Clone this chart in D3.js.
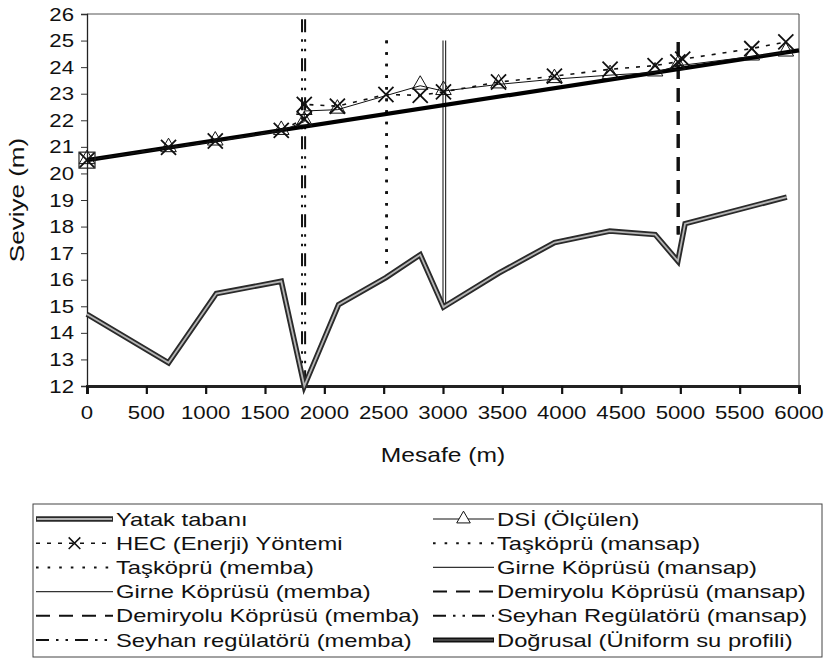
<!DOCTYPE html>
<html>
<head>
<meta charset="utf-8">
<script src="https://cdn.jsdelivr.net/npm/d3@7"></script>
<style>
  html, body { margin: 0; padding: 0; background: #fff; }
  svg { display: block; }
  text { font-family: "Liberation Sans", Arial, sans-serif; fill: #111; }
</style>
</head>
<body>
<script>
// ---- data ----
const xTicks = [0, 500, 1000, 1500, 2000, 2500, 3000, 3500, 4000, 4500, 5000, 5500, 6000];
const yTicks = [12, 13, 14, 15, 16, 17, 18, 19, 20, 21, 22, 23, 24, 25, 26];

// Yatak tabanı (river bed)
const bedX = [0, 687, 1090, 1637, 1831, 2120, 2519, 2808, 3004, 3470, 3940, 4405, 4788, 4979, 5040, 5897];
const bedY = [14.7, 12.87, 15.48, 15.94, 12.0, 15.06, 16.08, 16.94, 14.97, 16.25, 17.4, 17.83, 17.7, 16.7, 18.11, 19.11];

// HEC (Enerji) Yöntemi
const hecX = [0, 687, 1081, 1637, 1831, 1831, 2110, 2519, 2808, 3004, 3468, 3939, 4408, 4787, 4979, 5020, 5602, 5889];
const hecY = [20.5, 20.98, 21.22, 21.62, 22.05, 22.6, 22.53, 22.97, 22.94, 23.07, 23.44, 23.66, 23.92, 24.06, 24.2, 24.3, 24.7, 24.95];

// DSİ (Ölçülen)
const dsiX = [0, 687, 1081, 1637, 1831, 1831, 2110, 2808, 3004, 3468, 3939, 4408, 4787, 4979, 5602, 5889];
const dsiY = [20.5, 20.95, 21.2, 21.6, 21.95, 22.35, 22.4, 23.3, 23.1, 23.35, 23.55, 23.7, 23.8, 24.05, 24.4, 24.55];

// start point (square marker)
const startX = [0];
const startY = [20.5];

// Doğrusal (Üniform su profili)
const linX = [0, 6000];
const linY = [20.5, 24.63];

// structure sections: [x, top, bottom]
const taskopruMansap = [2525, 25.0, 16.5];
const taskopruMemba  = [2525, 25.0, 16.5];
const girneMansap    = [3000, 25.0, 15.0];
const girneMemba     = [3022, 25.0, 15.0];
const demiryoluMansap = [4982, 24.95, 17.7];
const demiryoluMemba  = [4982, 24.95, 17.7];
const seyhanMansap   = [1812, 25.8, 12.0];
const seyhanMemba    = [1838, 25.8, 12.0];

// ---- setup ----
const W = 828, H = 669;
const svg = d3.select("body").append("svg").attr("width", W).attr("height", H);

const x = d3.scaleLinear().domain([0, 6000]).range([87, 799]);
const y = d3.scaleLinear().domain([12, 26]).range([386, 14]);

function label(g, px, py, str, size, anchor, rot, sx) {
  return g.append("text")
    .attr("transform", `translate(${px},${py}) rotate(${rot || 0}) scale(${sx || 1.2},1)`)
    .attr("text-anchor", anchor || "start")
    .style("font-size", size + "px")
    .text(str);
}

// styles
const styles = {
  hec:   { stroke: "#111", width: 1.6, dash: "4,7" },
  dsi:   { stroke: "#111", width: 1, dash: null },
  tas:   { stroke: "#111", width: 2.6, dash: "2.6,9" },
  girne: { stroke: "#333", width: 1.2, dash: null },
  dem:   { stroke: "#111", width: 3, dash: "14,9" },
  sey:   { stroke: "#111", width: 2, dash: "13,7,2.5,7,2.5,7" },
};

// ---- frame ----
svg.append("line").attr("x1", x(0)).attr("x2", x(6000)).attr("y1", y(26)).attr("y2", y(26))
  .attr("stroke", "#555").attr("stroke-width", 1);
svg.append("line").attr("x1", x(6000)).attr("x2", x(6000)).attr("y1", y(26)).attr("y2", y(12))
  .attr("stroke", "#444").attr("stroke-width", 1);

// axes
const yAxis = svg.append("g").attr("transform", `translate(${x(0)},0)`)
  .call(d3.axisLeft(y).tickValues(yTicks).tickSize(6).tickFormat(""));
yAxis.select(".domain").attr("stroke", "#222").attr("stroke-width", 1.3);
yAxis.selectAll(".tick line").attr("stroke", "#333");

const xAxis = svg.append("g").attr("transform", `translate(0,${y(12)})`)
  .call(d3.axisBottom(x).tickValues(xTicks).tickSize(8).tickFormat(""));
xAxis.select(".domain").attr("stroke", "#222").attr("stroke-width", 3);
xAxis.selectAll(".tick line").attr("stroke", "#111").attr("stroke-width", 2.2);

yTicks.forEach(v => label(svg, 74, y(v) + 6.6, String(v), 18.5, "end"));
xTicks.forEach(v => label(svg, x(v), 419, String(v), 18.5, "middle"));

label(svg, 443, 462, "Mesafe (m)", 20.5, "middle");
label(svg, 24, 200, "Seviye (m)", 21, "middle", -90, 1.24);

// ---- vertical structure lines ----
function vline(d, st) {
  svg.append("line")
    .attr("x1", x(d[0])).attr("x2", x(d[0]))
    .attr("y1", y(d[1])).attr("y2", y(d[2]))
    .attr("stroke", st.stroke).attr("stroke-width", st.width)
    .attr("stroke-dasharray", st.dash);
}
vline(taskopruMansap, styles.tas);
vline(taskopruMemba, styles.tas);
vline(girneMansap, styles.girne);
vline(girneMemba, styles.girne);
vline(demiryoluMansap, styles.dem);
vline(demiryoluMemba, styles.dem);
vline(seyhanMansap, styles.sey);
vline(seyhanMemba, styles.sey);

// ---- bed ----
const line = d3.line().x(d => x(d[0])).y(d => y(d[1]));
const bed = d3.zip(bedX, bedY);
svg.append("path").attr("d", line(bed)).attr("fill", "none")
  .attr("stroke", "#2a2a2a").attr("stroke-width", 5.5).attr("stroke-linejoin", "miter");
svg.append("path").attr("d", line(bed)).attr("fill", "none")
  .attr("stroke", "#b5b5b5").attr("stroke-width", 1.8).attr("stroke-linejoin", "miter");

// ---- uniform profile ----
svg.append("path").attr("d", line(d3.zip(linX, linY))).attr("fill", "none")
  .attr("stroke", "#000").attr("stroke-width", 4.2);

// ---- DSİ ----
const dsi = d3.zip(dsiX, dsiY);
svg.append("path").attr("d", line(dsi)).attr("fill", "none")
  .attr("stroke", styles.dsi.stroke).attr("stroke-width", styles.dsi.width);
const tri = d3.symbol().type(d3.symbolTriangle).size(105);
svg.append("g").selectAll("path").data(dsi).join("path")
  .attr("d", tri).attr("transform", d => `translate(${x(d[0])},${y(d[1]) - 1})`)
  .attr("fill", "none").attr("stroke", "#111").attr("stroke-width", 1);

// ---- HEC ----
const hec = d3.zip(hecX, hecY);
svg.append("path").attr("d", line(hec)).attr("fill", "none")
  .attr("stroke", styles.hec.stroke).attr("stroke-width", styles.hec.width)
  .attr("stroke-dasharray", styles.hec.dash);
const cross = d3.symbol().type(d3.symbolX).size(150);
svg.append("g").selectAll("path").data(hec).join("path")
  .attr("d", cross).attr("transform", d => `translate(${x(d[0])},${y(d[1])})`)
  .attr("fill", "none").attr("stroke", "#111").attr("stroke-width", 1.8);

// start square
svg.append("g").selectAll("rect").data(d3.zip(startX, startY)).join("rect")
  .attr("x", d => x(d[0]) - 8).attr("y", d => y(d[1]) - 8)
  .attr("width", 16).attr("height", 16)
  .attr("fill", "none").attr("stroke", "#222").attr("stroke-width", 1.2);

// ---- legend ----
const lg = svg.append("g");
const lgTop = 504, lgBottom = 657, lgLeft = 33, lgRight = 822;
lg.append("rect").attr("x", lgLeft).attr("y", lgTop).attr("width", lgRight - lgLeft)
  .attr("height", lgBottom - lgTop).attr("fill", "#fff").attr("stroke", "#444").attr("stroke-width", 1);

const rowY = i => 519 + i * 24.2;
const colL = { x1: 36, x2: 113, tx: 116 };
const colR = { x1: 433, x2: 494, tx: 497 };

function sample(col, i, kind) {
  const yy = rowY(i);
  const mid = (col.x1 + col.x2) / 2;
  if (kind === "bed") {
    lg.append("line").attr("x1", col.x1).attr("x2", col.x2).attr("y1", yy).attr("y2", yy)
      .attr("stroke", "#2a2a2a").attr("stroke-width", 5.5);
    lg.append("line").attr("x1", col.x1 + 1).attr("x2", col.x2 - 1).attr("y1", yy).attr("y2", yy)
      .attr("stroke", "#b5b5b5").attr("stroke-width", 1.8);
  } else if (kind === "lin") {
    lg.append("line").attr("x1", col.x1).attr("x2", col.x2).attr("y1", yy).attr("y2", yy)
      .attr("stroke", "#111").attr("stroke-width", 5);
    lg.append("line").attr("x1", col.x1 + 1).attr("x2", col.x2 - 1).attr("y1", yy).attr("y2", yy)
      .attr("stroke", "#777").attr("stroke-width", 1.2);
  } else {
    const st = styles[kind];
    lg.append("line").attr("x1", col.x1).attr("x2", col.x2).attr("y1", yy).attr("y2", yy)
      .attr("stroke", st.stroke).attr("stroke-width", Math.min(st.width, 2))
      .attr("stroke-dasharray", st.dash);
    if (kind === "hec") {
      lg.append("path").attr("d", d3.symbol().type(d3.symbolX).size(90)())
        .attr("transform", `translate(${mid},${yy})`).attr("fill", "none")
        .attr("stroke", "#111").attr("stroke-width", 1.5);
    }
    if (kind === "dsi") {
      lg.append("path").attr("d", d3.symbol().type(d3.symbolTriangle).size(80)())
        .attr("transform", `translate(${mid},${yy})`).attr("fill", "#fff")
        .attr("stroke", "#111").attr("stroke-width", 1);
    }
  }
}

const legendLeft = [
  ["bed", "Yatak tabanı"],
  ["hec", "HEC (Enerji) Yöntemi"],
  ["tas", "Taşköprü (memba)"],
  ["girne", "Girne Köprüsü (memba)"],
  ["dem", "Demiryolu Köprüsü (memba)"],
  ["sey", "Seyhan regülatörü (memba)"],
];
const legendRight = [
  ["dsi", "DSİ (Ölçülen)"],
  ["tas", "Taşköprü (mansap)"],
  ["girne", "Girne Köprüsü (mansap)"],
  ["dem", "Demiryolu Köprüsü (mansap)"],
  ["sey", "Seyhan Regülatörü (mansap)"],
  ["lin", "Doğrusal (Üniform su profili)"],
];
legendLeft.forEach((d, i) => { sample(colL, i, d[0]); label(lg, colL.tx, rowY(i) + 6.6, d[1], 19, "start", 0, 1.25); });
legendRight.forEach((d, i) => { sample(colR, i, d[0]); label(lg, colR.tx, rowY(i) + 6.6, d[1], 19, "start", 0, 1.25); });
</script>
</body>
</html>
